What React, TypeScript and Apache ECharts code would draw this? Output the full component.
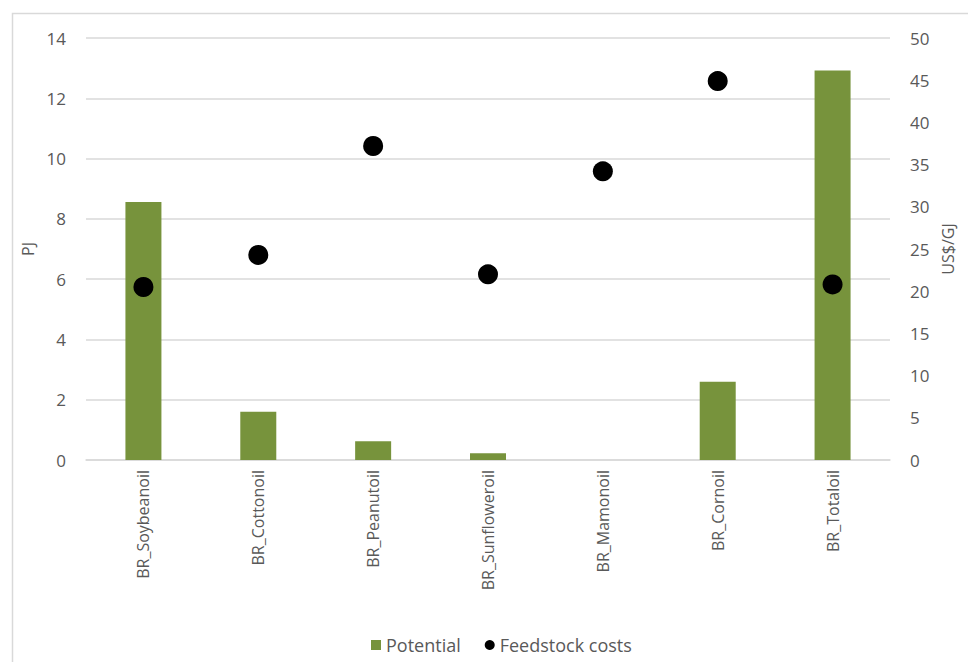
import React, { useEffect, useRef } from "react";
import * as echarts from "echarts";

const categories = [
  "BR_Soybeanoil",
  "BR_Cottonoil",
  "BR_Peanutoil",
  "BR_Sunfloweroil",
  "BR_Mamonoil",
  "BR_Cornoil",
  "BR_Totaloil",
];
// Potential, PJ (left axis)
const potential = [8.56, 1.6, 0.62, 0.22, 0, 2.6, 12.92];
// Feedstock costs, US$/GJ (right axis)
const feedstockCosts = [20.5, 24.3, 37.2, 22.0, 34.2, 44.9, 20.8];

const FONT = "'Open Sans', 'Noto Sans', sans-serif";
const TEXT = "#595959";
const GRID = "#d9d9d9";
const GREEN = "#77933C";

export default function App() {
  const ref = useRef<HTMLDivElement>(null);

  useEffect(() => {
    if (!ref.current) return;
    const chart = echarts.init(ref.current, null, { renderer: "svg" });
    chart.setOption({
      animation: false,
      backgroundColor: "#ffffff",
      textStyle: { fontFamily: FONT },
      graphic: [
        {
          type: "rect",
          shape: { x: 12.5, y: 13.5, width: 960, height: 660 },
          style: { fill: "none", stroke: GRID, lineWidth: 1.5 },
          silent: true,
        },
      ],
      grid: { left: 86, right: 78, top: 38, bottom: 202 },
      legend: {
        bottom: 3,
        left: 366,
        itemWidth: 10,
        itemHeight: 10,
        itemGap: 24,
        textStyle: { color: TEXT, fontSize: 18, fontFamily: FONT },
        data: [
          { name: "Potential", icon: "rect" },
          { name: "Feedstock costs", icon: "circle" },
        ],
      },
      xAxis: {
        type: "category",
        data: categories,
        axisLine: { lineStyle: { color: GRID, width: 1.5 } },
        axisTick: { show: false },
        axisLabel: {
          rotate: 90,
          color: TEXT,
          fontSize: 16,
          margin: 10,
          fontFamily: FONT,
        },
      },
      yAxis: [
        {
          type: "value",
          name: "PJ",
          nameLocation: "middle",
          nameGap: 48,
          nameTextStyle: { color: TEXT, fontSize: 16, fontFamily: FONT },
          min: 0,
          max: 14,
          interval: 2,
          axisLine: { show: false },
          axisTick: { show: false },
          axisLabel: { color: TEXT, fontSize: 17, margin: 20, fontFamily: FONT },
          splitLine: { lineStyle: { color: GRID, width: 1.5 } },
        },
        {
          type: "value",
          name: "US$/GJ",
          nameLocation: "middle",
          nameGap: 50,
          nameTextStyle: { color: TEXT, fontSize: 16, fontFamily: FONT },
          min: 0,
          max: 50,
          interval: 5,
          axisLine: { show: false },
          axisTick: { show: false },
          axisLabel: { color: TEXT, fontSize: 17, margin: 20, fontFamily: FONT },
          splitLine: { show: false },
        },
      ],
      series: [
        {
          name: "Potential",
          type: "bar",
          data: potential,
          barWidth: 36,
          itemStyle: { color: GREEN },
          yAxisIndex: 0,
        },
        {
          name: "Feedstock costs",
          type: "scatter",
          data: feedstockCosts,
          yAxisIndex: 1,
          symbol: "circle",
          symbolSize: 20,
          itemStyle: { color: "#000000", opacity: 1 },
        },
      ],
    });
    return () => chart.dispose();
  }, []);

  return (
    <div
      ref={ref}
      style={{ position: "fixed", left: 0, top: 0, width: 968, height: 662 }}
    />
  );
}
